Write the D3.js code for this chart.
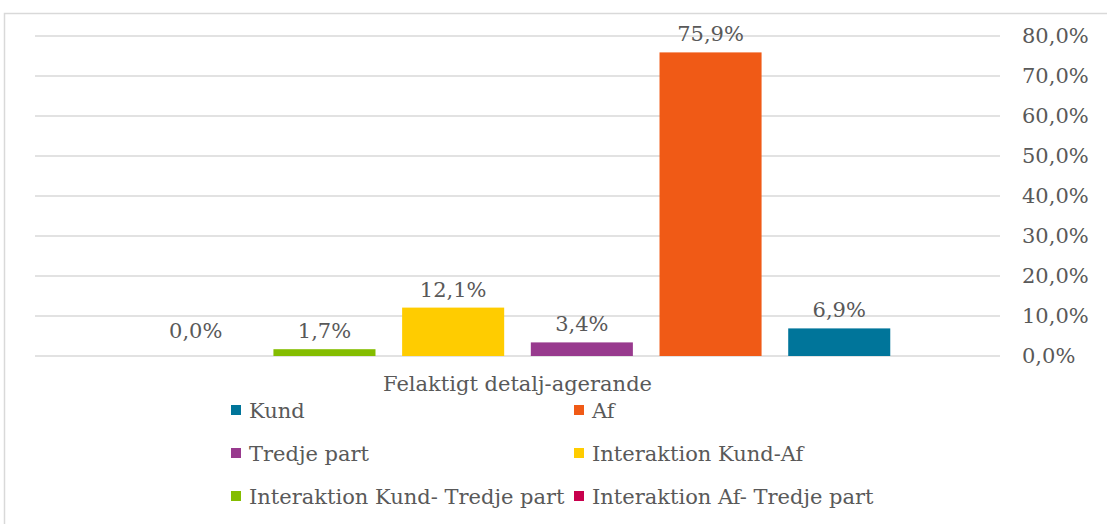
<!DOCTYPE html>
<html>
  <head>
    <meta charset="utf-8">
    <script src="https://d3js.org/d3.v7.min.js"></script>
    <style>
      body { margin: 0; background: #fff; }
      svg { display: block; }
      text { font-family: "DejaVu Serif", Georgia, serif; fill: #595959; }
      .grid line { stroke: #D9D9D9; stroke-width: 1.5px; }
      .axis text { font-size: 21px; }
      .axis .domain, .axis .tick line { display: none; }
      .label { font-size: 21px; text-anchor: middle; }
      .legend text { font-size: 21px; }
    </style>
  </head>
  <body>
    <svg width="1107" height="524"></svg>
    <script>
      // data
      const category = "Felaktigt detalj-agerande";
      const seriesNames = ["Kund", "Af", "Tredje part", "Interaktion Kund-Af",
        "Interaktion Kund- Tredje part", "Interaktion Af- Tredje part"];
      const seriesValues = [6.9, 75.9, 3.4, 12.1, 1.7, 0.0];
      const seriesColors = ["#00759A", "#F05A16", "#983A8E", "#FFCC00", "#84BD00", "#C8004D"];
      const yTicks = [0, 10, 20, 30, 40, 50, 60, 70, 80];

      // bars are drawn in reverse series order (left to right)
      const barOrder = seriesNames.slice().reverse();

      const svg = d3.select("svg");
      const margin = {top: 36, right: 107, bottom: 168, left: 35};
      const width = +svg.attr("width");
      const height = +svg.attr("height");
      const innerWidth = width - margin.left - margin.right;
      const innerHeight = height - margin.top - margin.bottom;

      const fmt = v => v.toFixed(1).replace(".", ",") + "%";

      // chart border (top and left edges show, the rest is off the page)
      svg.append("path")
        .attr("d", `M4.5,${height} V13.5 H${width}`)
        .attr("fill", "none")
        .attr("stroke", "#D9D9D9")
        .attr("stroke-width", 1.5);

      const g = svg.append("g")
        .attr("transform", `translate(${margin.left}, ${margin.top})`);

      const yScale = d3.scaleLinear().domain([0, 80]).range([innerHeight, 0]);
      const xCat = d3.scaleBand().domain([category]).range([0, innerWidth]).padding(0.111);
      const xSeries = d3.scaleBand()
        .domain(barOrder)
        .range([0, xCat.bandwidth()])
        .paddingInner(0.207)
        .paddingOuter(0.1035);

      // gridlines
      g.append("g").attr("class", "grid")
        .selectAll("line").data(yTicks).join("line")
          .attr("x1", 0).attr("x2", innerWidth)
          .attr("y1", d => yScale(d)).attr("y2", d => yScale(d));

      // right axis
      const yAxis = d3.axisRight(yScale)
        .tickValues(yTicks)
        .tickFormat(fmt)
        .tickSize(0)
        .tickPadding(22);
      g.append("g").attr("class", "axis")
        .attr("transform", `translate(${innerWidth}, 0)`)
        .call(yAxis);

      // bars
      const bars = barOrder.map(name => {
        const i = seriesNames.indexOf(name);
        return {name, value: seriesValues[i], color: seriesColors[i]};
      });

      const group = g.append("g")
        .attr("transform", `translate(${xCat(category)}, 0)`);

      group.selectAll("rect").data(bars).join("rect")
        .attr("x", d => xSeries(d.name))
        .attr("width", xSeries.bandwidth())
        .attr("y", d => yScale(d.value))
        .attr("height", d => innerHeight - yScale(d.value))
        .attr("fill", d => d.color);

      group.selectAll("text").data(bars).join("text")
        .attr("class", "label")
        .attr("x", d => xSeries(d.name) + xSeries.bandwidth() / 2)
        .attr("y", d => Math.min(yScale(d.value), innerHeight - 7) - 11)
        .text(d => fmt(d.value));

      // category label
      g.append("text")
        .attr("class", "label")
        .attr("x", xCat(category) + xCat.bandwidth() / 2)
        .attr("y", innerHeight + 35)
        .text(category);

      // legend
      const legend = svg.append("g").attr("class", "legend")
        .attr("transform", "translate(231, 410)");
      const item = legend.selectAll("g").data(seriesNames).join("g")
        .attr("transform", (d, i) => `translate(${(i % 2) * 343}, ${Math.floor(i / 2) * 43})`);
      item.append("rect")
        .attr("x", 0).attr("y", -5)
        .attr("width", 10).attr("height", 10)
        .attr("fill", (d, i) => seriesColors[i]);
      item.append("text")
        .attr("x", 18).attr("y", 8)
        .text(d => d);
    </script>
  </body>
</html>
